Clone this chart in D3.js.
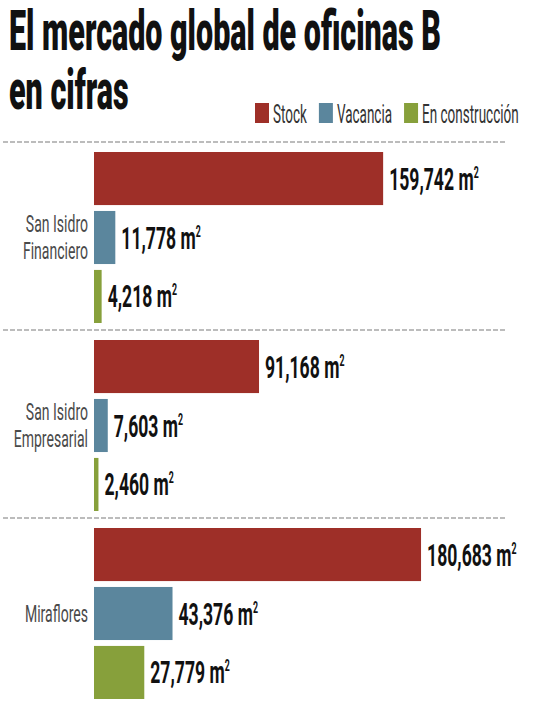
<!DOCTYPE html>
<html>
<head>
<meta charset="utf-8">
<script src="https://cdn.jsdelivr.net/npm/d3@7"></script>
<style>
  body { margin: 0; background: #fff; }
  text { font-family: Roboto, "DejaVu Sans", sans-serif; }
</style>
</head>
<body>
<div id="chart"></div>
<script>
// data
var regions = ["San Isidro Financiero", "San Isidro Empresarial", "Miraflores"];
var regionLines = [["San Isidro", "Financiero"], ["San Isidro", "Empresarial"], ["Miraflores"]];
var seriesNames = ["Stock", "Vacancia", "En construcción"];
var stock = [159742, 91168, 180683];
var vacancia = [11778, 7603, 43376];
var construccion = [4218, 2460, 27779];
var colors = ["#9e2f28", "#5b869d", "#87a03b"];

var svgWidth = 540;
var svgHeight = 702;

var svg = d3.select("#chart").append("svg")
  .attr("width", svgWidth).attr("height", svgHeight);

var rows = regions.map(function(r, i) {
  return {
    region: r,
    lines: regionLines[i],
    values: [stock[i], vacancia[i], construccion[i]].map(function(v, j) {
      return { series: seriesNames[j], value: v, color: colors[j] };
    })
  };
});

// scales
var x = d3.scaleLinear().domain([0, 200000]).range([94, 456]);
var y0 = d3.scaleBand().domain(regions).range([146, 710]);
var y1 = d3.scaleBand().domain(seriesNames).range([6, 177]).paddingInner(0.1);
var fmt = d3.format(",");

// squeeze text horizontally (the original uses a very condensed face)
function squeeze(g, k) {
  g.attr("transform", function() {
    return d3.select(this).attr("transform") + " scale(" + k + ",1)";
  });
}

// title
var titleLines = ["El mercado global de oficinas B", "en cifras"];
var titleG = svg.selectAll(".title").data(titleLines).enter().append("g")
  .attr("class", "title")
  .attr("transform", function(d, i) { return "translate(9," + (50 + i * 59) + ")"; });
titleG.append("text")
  .attr("font-size", 55).attr("font-weight", 900).attr("fill", "#111")
  .text(function(d) { return d; });
var titleK = 432 / titleG.select("text").node().getComputedTextLength();
squeeze(titleG, titleK);

// legend
var legendX = 255;
seriesNames.forEach(function(s, i) {
  var lg = svg.append("g").attr("transform", "translate(" + legendX + ",103)");
  lg.append("rect").attr("width", 14).attr("height", 20).attr("fill", colors[i]);
  var tg = lg.append("g").attr("transform", "translate(18,20)");
  var t = tg.append("text").attr("font-size", 25).attr("fill", "#333").text(s);
  var k = 0.54;
  squeeze(tg, k);
  legendX += 18 + t.node().getComputedTextLength() * k + 12;
});

// separators
svg.selectAll(".sep").data(regions).enter().append("line")
  .attr("class", "sep")
  .attr("x1", 3).attr("x2", 505)
  .attr("y1", function(d) { return y0(d) - 4; })
  .attr("y2", function(d) { return y0(d) - 4; })
  .attr("stroke", "#a6a6a6").attr("stroke-width", 1.5)
  .attr("stroke-dasharray", "5,2");

// groups
var groups = svg.selectAll(".group").data(rows).enter().append("g")
  .attr("class", "group")
  .attr("transform", function(d) { return "translate(0," + y0(d.region) + ")"; });

groups.selectAll("rect").data(function(d) { return d.values; }).enter().append("rect")
  .attr("x", x(0))
  .attr("y", function(d) { return y1(d.series); })
  .attr("width", function(d) { return x(d.value) - x(0); })
  .attr("height", y1.bandwidth())
  .attr("fill", function(d) { return d.color; });

// value labels
var valG = groups.selectAll(".val").data(function(d) { return d.values; }).enter().append("g")
  .attr("class", "val")
  .attr("transform", function(d) {
    return "translate(" + (x(d.value) + 6) + "," + (y1(d.series) + y1.bandwidth() / 2 + 11) + ")";
  });
var valText = valG.append("text")
  .attr("font-size", 32).attr("font-weight", 700).attr("fill", "#111");
valText.append("tspan").text(function(d) { return fmt(d.value) + " m"; });
valText.append("tspan").attr("font-size", 16).attr("dy", -12).text("2");
squeeze(valG, 0.55);

// region labels
var mid = y1.range()[0] + (y1.range()[1] - y1.range()[0]) / 2;
var labG = groups.append("g")
  .attr("transform", function(d) {
    var off = d.lines.length > 1 ? -6 : 8;
    return "translate(88," + (mid + off) + ")";
  });
labG.append("text")
  .attr("text-anchor", "end").attr("font-size", 23).attr("fill", "#4a4a4a")
  .selectAll("tspan").data(function(d) { return d.lines; }).enter().append("tspan")
  .attr("x", 0)
  .attr("dy", function(d, i) { return i === 0 ? 0 : 28; })
  .text(function(d) { return d; });
squeeze(labG, 0.61);
</script>
</body>
</html>
